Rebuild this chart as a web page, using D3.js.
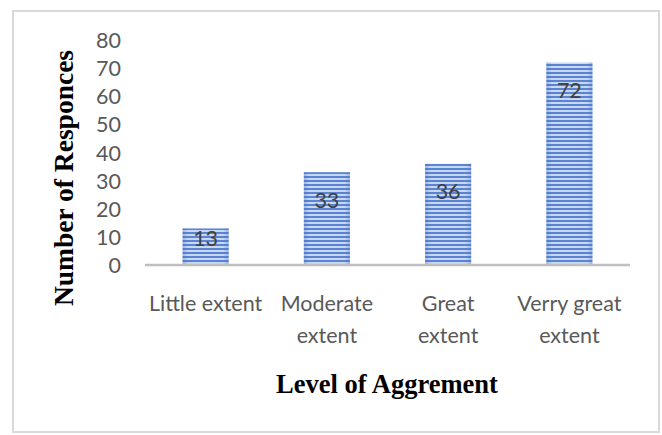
<!DOCTYPE html>
<html><head><meta charset="utf-8">
<script src="https://cdn.jsdelivr.net/npm/d3@7"></script>
<style>html,body{margin:0;padding:0;background:#fff;}</style>
</head><body>
<svg id="chart" width="662" height="435"></svg>
<script>
const categories = ["Little extent", "Moderate extent", "Great extent", "Verry great extent"];
const categoryLines = [["Little extent"], ["Moderate", "extent"], ["Great", "extent"], ["Verry great", "extent"]];
const values = [13, 33, 36, 72];
const yTicks = [0, 10, 20, 30, 40, 50, 60, 70, 80];
const xTitle = "Level of Aggrement";
const yTitle = "Number of Responces";

const svg = d3.select("#chart");
const plot = {left: 145, right: 630, top: 40, bottom: 265};
const sans = "Lato, 'Open Sans', sans-serif";
const serif = "'Liberation Serif', 'Times New Roman', serif";

svg.append("rect").attr("x", 13).attr("y", 11).attr("width", 646).attr("height", 421)
  .attr("fill", "#fff").attr("stroke", "#d9d9d9").attr("stroke-width", 2);

const defs = svg.append("defs");
const pat = defs.append("pattern").attr("id", "stripes").attr("patternUnits", "userSpaceOnUse")
  .attr("width", 8).attr("height", 4);
pat.append("rect").attr("width", 8).attr("height", 4).attr("fill", "#c9d8f2");
pat.append("rect").attr("y", 0).attr("width", 8).attr("height", 2).attr("fill", "#5a84d2");
const grad = defs.append("linearGradient").attr("id", "edge").attr("x1", 0).attr("x2", 1);
grad.append("stop").attr("offset", "0").attr("stop-color", "#4472c4").attr("stop-opacity", 0.35);
grad.append("stop").attr("offset", "0.12").attr("stop-color", "#4472c4").attr("stop-opacity", 0);
grad.append("stop").attr("offset", "0.88").attr("stop-color", "#4472c4").attr("stop-opacity", 0);
grad.append("stop").attr("offset", "1").attr("stop-color", "#4472c4").attr("stop-opacity", 0.35);

const x = d3.scaleBand().domain(categories).range([plot.left, plot.right]).paddingInner(0.62).paddingOuter(0.31);
const y = d3.scaleLinear().domain([0, 80]).range([plot.bottom, plot.top]);

// y ticks
const yAxis = d3.axisLeft(y).tickValues(yTicks).tickSize(0).tickPadding(0);
const gy = svg.append("g").attr("transform", `translate(121,0)`).call(yAxis);
gy.select(".domain").remove();
gy.selectAll("text").attr("font-family", sans).attr("font-size", 21.5)
  .attr("fill", "#595959").attr("dy", "0.35em");

// bars
const bars = svg.append("g");
values.forEach((v, i) => {
  const bx = x(categories[i]), bw = x.bandwidth(), by = y(v), bh = y(0) - y(v);
  bars.append("rect").attr("x", bx).attr("y", by).attr("width", bw).attr("height", bh).attr("fill", "url(#stripes)");
  bars.append("rect").attr("x", bx).attr("y", by).attr("width", bw).attr("height", bh).attr("fill", "url(#edge)");
});

// x axis line
svg.append("line").attr("x1", plot.left).attr("x2", plot.right).attr("y1", y(0)).attr("y2", y(0))
  .attr("stroke", "#bfbfbf").attr("stroke-width", 2.5);

// value labels
values.forEach((v, i) => {
  const bh = y(0) - y(v);
  const off = bh > 60 ? 28 : 10;
  svg.append("text").attr("x", x(categories[i]) + x.bandwidth() / 2).attr("y", y(v) + off)
    .attr("dy", "0.35em").attr("text-anchor", "middle")
    .attr("font-family", sans).attr("font-size", 21.5).attr("fill", "#404040")
    .text(v);
});

// category labels
categoryLines.forEach((lines, i) => {
  const t = svg.append("text").attr("text-anchor", "middle")
    .attr("font-family", sans).attr("font-size", 21.5).attr("fill", "#595959");
  lines.forEach((ln, j) => {
    t.append("tspan").attr("x", x(categories[i]) + x.bandwidth() / 2).attr("y", 303 + j * 32)
      .attr("dy", "0.35em").text(ln);
  });
});

// titles
svg.append("text").attr("x", 387).attr("y", 384).attr("dy", "0.35em").attr("text-anchor", "middle")
  .attr("font-family", serif).attr("font-weight", "bold")
  .attr("font-size", 26.5).attr("fill", "#000").text(xTitle);
svg.append("text").attr("transform", "translate(63,178) rotate(-90)").attr("dy", "0.35em").attr("text-anchor", "middle")
  .attr("font-family", serif).attr("font-weight", "bold")
  .attr("font-size", 27.5).attr("fill", "#000").text(yTitle);
</script>
</body></html>
